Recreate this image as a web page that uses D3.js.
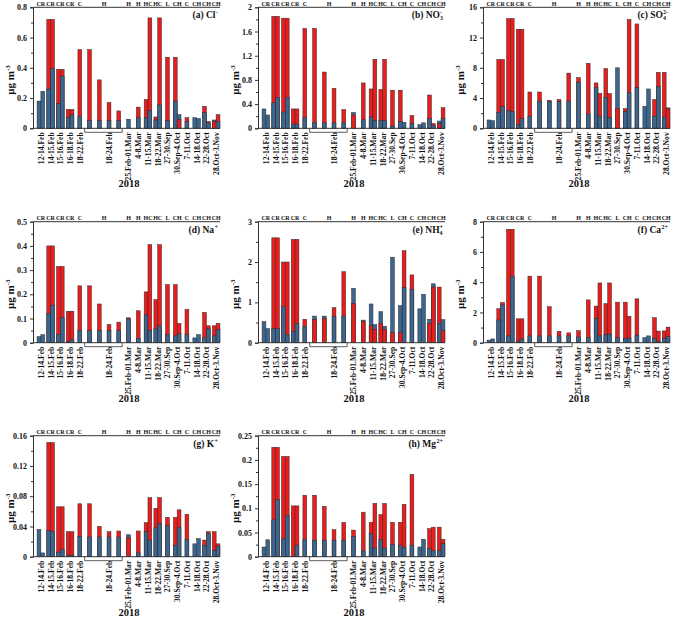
<!DOCTYPE html>
<html>
<head>
<meta charset="utf-8">
<script src="https://cdn.jsdelivr.net/npm/d3@7"></script>
<style>
	body { margin: 0; background: #fff; }
	text { font-family: "Liberation Serif", "Times New Roman", serif; font-weight: bold; fill: #111; }
</style>
</head>
<body>
<div class="thegraph"></div>
<script>
// sampling periods (bar slots); the 4 bars of 18-24.Feb share one bracket
var slots = ["12-14.Feb", "14-15.Feb", "15-16.Feb", "16-18.Feb", "18-22.Feb",
             "18-24.Feb#1", "18-24.Feb#2", "18-24.Feb#3", "18-24.Feb#4",
             "25.Feb-01.Mar", "4-8.Mar", "11-15.Mar", "18-22.Mar", "27-30.Sep",
             "30.Sep-4.Oct", "7-11.Oct", "14-18.Oct", "22-28.Oct", "28.Oct-3.Nov"];
var tickLabels = ["12-14.Feb", "14-15.Feb", "15-16.Feb", "16-18.Feb", "18-22.Feb",
                  "", "", "18-24.Feb", "",
                  "25.Feb-01.Mar", "4-8.Mar", "11-15.Mar", "18-22.Mar", "27-30.Sep",
                  "30.Sep-4.Oct", "7-11.Oct", "14-18.Oct", "22-28.Oct", "28.Oct-3.Nov"];
var typeLabels = ["CR", "CR", "CR", "CR", "C", "H", "H", "H", "H", "H", "H",
                  "HC", "HC", "L", "CH", "C", "CH", "CH", "CH"];
var bracketSlots = ["18-24.Feb#1", "18-24.Feb#2", "18-24.Feb#3", "18-24.Feb#4"];

// values: a number = one bar, a pair = two bars side by side
var clRed   = [[0,0],[0.72,0.72],[0.39,0.39],[0.125,0.125],0.52,0.52,0.32,0.17,0.115,0,0.14,[0.19,0.73],[0.075,0.73],0.47,[0.47,0.06],0.07,[0,0],[0.145,0.045],[0.045,0.09]];
var clBlue  = [[0.18,0.245],[0.26,0.395],[0.165,0.345],[0.07,0.09],0.08,0.05,0.05,0.05,0.05,0.06,0.07,[0.07,0.12],[0.055,0.155],0.05,[0.18,0.09],0.045,[0.07,0.065],[0.105,0.035],[0.055,0.045]];
var no3Red  = [[0,0],[1.85,1.85],[1.82,1.82],[0.32,0.32],1.65,1.65,0.93,0.66,0.31,0.22,0.75,[0.65,1.14],[0.64,1.14],0.63,[0.63,0],0.21,[0,0],[0.55,0.08],[0.08,0.34]];
var no3Blue = [[0.32,0.22],[0.42,0.51],[0.27,0.51],[0.07,0.07],0.18,0.09,0.09,0.09,0.09,0.26,0.14,[0.19,0.13],[0.13,0.13],0.04,[0.11,0.10],0.08,[0.06,0.09],[0.16,0.05],[0.12,0.16]];
var so4Red  = [[0,0],[9.1,9.1],[14.5,14.5],[13.1,13.1],4.8,4.8,3.7,3.8,7.3,6.7,8.6,[6.0,4.6],[7.9,4.6],2.6,[2.6,14.4],13.8,[0,0],[3.8,7.4],[7.4,2.6]];
var so4Blue = [[1.1,1.0],[2.1,2.9],[2.4,2.2],[0.5,1.3],1.6,3.6,3.55,3.55,3.6,6.1,1.9,[5.4,1.6],[4.1,1.4],8.0,[2.2,4.7],5.4,[2.9,5.2],[1.6,5.5],[1.5,2.7]];
var naRed   = [[0,0],[0.40,0.40],[0.315,0.315],[0.13,0.13],0.235,0.235,0.16,0.075,0.085,0.103,0.132,[0.21,0.405],[0.178,0.405],0.24,[0.24,0.08],0.138,[0,0],[0.125,0.07],[0.07,0.08]];
var naBlue  = [[0.025,0.033],[0.12,0.155],[0.035,0.105],[0.005,0.012],0.05,0.05,0.05,0.05,0.05,0.098,0.018,[0.115,0.05],[0.057,0.07],0.033,[0.028,0.037],0.033,[0.02,0.033],[0.02,0.057],[0.028,0.055]];
var nh4Red  = [[0,0],[2.6,2.6],[2.0,2.0],[2.56,2.56],0.58,0.58,0.6,0.87,1.76,0.97,0.53,[0.42,0.33],[0.48,0.33],0.25,[0.25,2.28],1.68,[0,0],[0.48,1.38],[1.38,0.3]];
var nh4Blue = [[0.52,0.35],[0.35,0.35],[0.9,0.2],[0.28,0.47],0.4,0.66,0.66,0.65,0.66,1.35,0.56,[0.96,0.45],[0.77,0.41],2.12,[0.92,1.37],1.32,[0.84,1.2],[0.58,1.46],[0.48,0.57]];
var caRed   = [[0,0],[2.25,2.65],[7.5,7.5],[1.58,1.58],4.4,4.4,2.38,0.75,0.65,0.8,2.83,[2.42,3.95],[2.58,3.95],2.68,[2.68,1.75],2.9,[0,0],[1.65,0.77],[0.78,1.03]];
var caBlue  = [[0.17,0.25],[1.5,2.5],[0.45,4.4],[0.1,0.25],0.45,0.45,0.45,0.45,0.45,0.38,0.33,[1.62,0.45],[0.55,0.57],0.33,[0.3,0.3],0.5,[0.33,0.45],[0.3,0.1],[0.28,0.4]];
var kRed    = [[0,0],[0.151,0.151],[0.066,0.066],[0.033,0.033],0.07,0.07,0.04,0.033,0.034,0.025,0.034,[0.045,0.078],[0.064,0.078],0.052,[0.052,0.062],0.056,[0,0],[0.022,0.033],[0.033,0.017]];
var kBlue   = [[0.036,0.005],[0.035,0.033],[0.006,0.01],[0.002,0.002],0.027,0.026,0.026,0.026,0.026,0.029,0.005,[0.033,0.022],[0.038,0.044],0.041,[0.015,0.039],0.023,[0.017,0.024],[0.015,0.031],[0.008,0.014]];
var mgRed   = [[0,0],[0.226,0.226],[0.207,0.207],[0.105,0.105],0.127,0.127,0.104,0.056,0.071,0.055,0.092,[0.071,0.11],[0.087,0.11],0.071,[0.071,0.108],0.17,[0,0],[0.058,0.061],[0.061,0.036]];
var mgBlue  = [[0.02,0.035],[0.076,0.118],[0.037,0.085],[0,0.024],0.036,0.034,0.034,0.034,0.034,0.042,0.012,[0.048,0.018],[0.036,0.018],0.026,[0.024,0.019],0.024,[0.02,0.036],[0.017,0.012],[0.013,0.027]];

// y tick labels per panel
var clTicks  = [0, 0.2, 0.4, 0.6, 0.8];
var no3Ticks = [0, 0.4, 0.8, 1.2, 1.6, 2];
var so4Ticks = [0, 4, 8, 12, 16];
var naTicks  = [0, 0.1, 0.2, 0.3, 0.4, 0.5];
var nh4Ticks = [0, 1, 2, 3];
var caTicks  = [0, 2, 4, 6, 8];
var kTicks   = [0, 0.04, 0.08, 0.12, 0.16];
var mgTicks  = [0, 0.05, 0.1, 0.15, 0.2, 0.25];

var panels = [
	{ title: ["(a) Cl", "", "-"], red: clRed, blue: clBlue, ticks: clTicks },
	{ title: ["(b) NO", "3", "-"], red: no3Red, blue: no3Blue, ticks: no3Ticks },
	{ title: ["(c) SO", "4", "2-"], red: so4Red, blue: so4Blue, ticks: so4Ticks },
	{ title: ["(d) Na", "", "+"], red: naRed, blue: naBlue, ticks: naTicks },
	{ title: ["(e) NH", "4", "+"], red: nh4Red, blue: nh4Blue, ticks: nh4Ticks },
	{ title: ["(f) Ca", "", "2+"], red: caRed, blue: caBlue, ticks: caTicks },
	{ title: ["(g) K", "", "+"], red: kRed, blue: kBlue, ticks: kTicks },
	{ title: ["(h) Mg", "", "2+"], red: mgRed, blue: mgBlue, ticks: mgTicks }
];

var colLeft = [33, 258, 483];
var rowTop = [7.3, 221.7, 435.7];
var pw = 187, ph = 121;
var RED = "#ec1c1c", BLUE = "#3a6690";

var svg = d3.select(".thegraph").append("svg")
	.attr("width", 676)
	.attr("height", 619);

var x = d3.scaleBand().domain(slots).range([3, 188]).padding(0);
var step = x.step();
var bw = step * 0.39;
var cx = function(s) { return x(s) + step / 2; };

panels.forEach(function(p, k) {
	var left = colLeft[k % 3], top = rowTop[Math.floor(k / 3)];
	var g = svg.append("g").attr("transform", "translate(" + left + "," + top + ")");
	var ymax = p.ticks[p.ticks.length - 1];
	var y = d3.scaleLinear().domain([0, ymax]).range([ph, 0]);

	// flatten into bars
	var bars = [];
	slots.forEach(function(s, i) {
		var r = p.red[i], b = p.blue[i];
		if (Array.isArray(r)) {
			bars.push({ x0: cx(s) - bw, red: r[0], blue: b[0] });
			bars.push({ x0: cx(s), red: r[1], blue: b[1] });
		} else {
			bars.push({ x0: cx(s) - bw / 2, red: r, blue: b });
		}
	});
	// larger value behind, smaller in front
	var rects = [];
	bars.forEach(function(d) {
		var pair = [{ x0: d.x0, v: d.red, c: RED }, { x0: d.x0, v: d.blue, c: BLUE }];
		pair.sort(function(a, b) { return b.v - a.v; });
		pair.forEach(function(q) { if (q.v > 0) rects.push(q); });
	});
	g.selectAll("rect.bar")
		.data(rects)
		.enter()
		.append("rect")
		.attr("class", "bar")
		.attr("x", function(d) { return d.x0; })
		.attr("y", function(d) { return y(d.v); })
		.attr("width", bw)
		.attr("height", function(d) { return ph - y(d.v); })
		.attr("fill", function(d) { return d.c; })
		.attr("stroke", "#2a2a2a")
		.attr("stroke-width", 0.5)
		;

	// y axis, major + minor ticks
	var fmt = function(d) { return String(+d.toFixed(3)); };
	var ya = g.append("g")
		.call(d3.axisLeft(y).tickValues(p.ticks).tickSize(3).tickPadding(3).tickFormat(fmt));
	ya.selectAll("text").attr("font-size", "8px").style("font-family", "Liberation Serif").style("font-weight", "bold");
	ya.select(".domain").attr("stroke", "#333");
	var minors = [];
	for (var i = 0; i < p.ticks.length - 1; i++) minors.push((p.ticks[i] + p.ticks[i + 1]) / 2);
	g.append("g")
		.call(d3.axisLeft(y).tickValues(minors).tickSize(2).tickFormat(""))
		.select(".domain").remove();
	g.selectAll(".tick line").attr("stroke", "#333");

	// bottom and top lines
	g.append("line").attr("x1", 0).attr("x2", pw).attr("y1", ph).attr("y2", ph).attr("stroke", "#333");
	g.append("line").attr("x1", 0).attr("x2", pw).attr("y1", 0).attr("y2", 0).attr("stroke", "#333");

	// bracket under the 18-24.Feb bars
	var bx1 = cx(bracketSlots[0]) - step * 0.5;
	var bx2 = cx(bracketSlots[bracketSlots.length - 1]) + step * 0.35;
	g.append("path")
		.attr("d", "M" + bx1 + "," + ph + "V" + (ph + 4) + "H" + bx2 + "V" + ph)
		.attr("fill", "none")
		.attr("stroke", "#333")
		.attr("stroke-width", 0.8);

	// rotated x tick labels
	g.selectAll("text.xl")
		.data(slots.filter(function(s, i) { return tickLabels[i] !== ""; }))
		.enter()
		.append("text")
		.attr("class", "xl")
		.attr("transform", function(s) { return "translate(" + (cx(s) + 0.3) + "," + (ph + 4) + ") rotate(-90)"; })
		.attr("text-anchor", "end")
		.attr("dy", "0.35em")
		.attr("font-size", "7.6px")
		.text(function(s) { return tickLabels[slots.indexOf(s)]; });

	// top type labels
	var tl = [];
	slots.forEach(function(s, i) {
		if (bracketSlots.indexOf(s) < 0) tl.push({ x: cx(s), t: typeLabels[i] });
	});
	tl.push({ x: (cx(bracketSlots[0]) + cx(bracketSlots[bracketSlots.length - 1])) / 2,
	          t: typeLabels[slots.indexOf(bracketSlots[0])] });
	g.selectAll("text.tl")
		.data(tl)
		.enter()
		.append("text")
		.attr("class", "tl")
		.attr("x", function(d) { return d.x; })
		.attr("y", -1.5)
		.attr("text-anchor", "middle")
		.attr("font-size", "6px")
		.text(function(d) { return d.t; });

	// panel title
	var t = g.append("text")
		.attr("x", pw - 2)
		.attr("y", 11)
		.attr("text-anchor", "end")
		.attr("font-size", "9.5px");
	t.append("tspan").text(p.title[0]);
	if (p.title[1]) t.append("tspan").attr("font-size", "6px").attr("dy", 2).text(p.title[1]);
	t.append("tspan").attr("font-size", "6px")
		.attr("dx", p.title[1] ? -3 : 0.5)
		.attr("dy", p.title[1] ? -6 : -4)
		.text(p.title[2]);

	// y label
	var yl = g.append("text")
		.attr("transform", "translate(-19," + (ph * 0.6) + ") rotate(-90)")
		.attr("text-anchor", "middle")
		.attr("font-size", "11px");
	yl.append("tspan").text("μg m");
	yl.append("tspan").attr("font-size", "7px").attr("dy", -4).text("-3");

	// year
	g.append("text")
		.attr("x", 96)
		.attr("y", ph + 59)
		.attr("text-anchor", "middle")
		.attr("font-size", "10.5px")
		.text("2018");
});
</script>
</body>
</html>
